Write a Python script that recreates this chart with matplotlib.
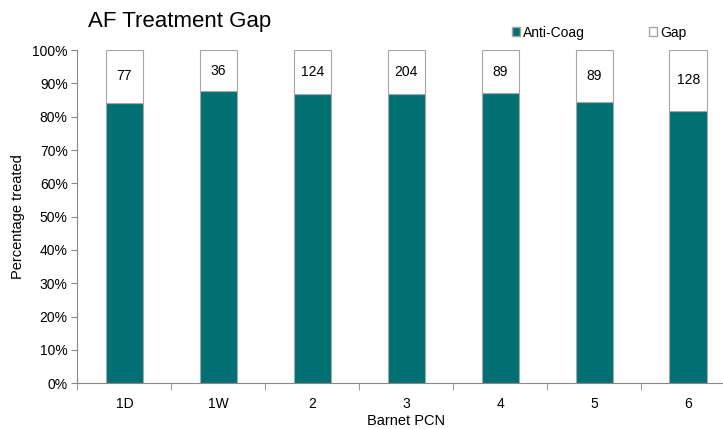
import numpy as np
import matplotlib.pyplot as plt
from matplotlib.ticker import PercentFormatter, FixedLocator
from matplotlib.patches import Patch

plt.rcParams['font.family'] = ['Liberation Sans', 'DejaVu Sans']

pcn = ['1D', '1W', '2', '3', '4', '5', '6']
anti_coag = [84.2, 87.8, 86.7, 86.7, 87.0, 84.3, 81.8]
gap_count = [77, 36, 124, 204, 89, 89, 128]

teal = '#007073'
edge = '#a6a6a6'

gap = [100 - a for a in anti_coag]
x = np.arange(len(pcn))

fig = plt.figure(figsize=(7.23, 4.29), dpi=100)
ax = fig.add_axes([0.107, 0.107, 0.910, 0.776])

ax.bar(x, anti_coag, width=0.40, color=teal, edgecolor=edge, linewidth=0.8)
ax.bar(x, gap, width=0.40, bottom=anti_coag, color='white', edgecolor=edge, linewidth=0.8)

for xi, a, g, n in zip(x, anti_coag, gap, gap_count):
    ax.text(xi, a + g / 2, str(n), ha='center', va='center', fontsize=10)

ax.set_xlim(-0.5, len(pcn) - 0.5)
ax.set_ylim(0, 100)
ax.yaxis.set_major_locator(FixedLocator(np.arange(0, 101, 10)))
ax.yaxis.set_major_formatter(PercentFormatter(decimals=0))
ax.set_xticks(x)
ax.set_xticklabels(pcn)
ax.set_xticks(np.arange(-0.5, len(pcn), 1), minor=True)
ax.tick_params(axis='x', which='major', length=0, pad=10, labelsize=10)
ax.tick_params(axis='x', which='minor', length=5, color='#888888', direction='out')
ax.tick_params(axis='y', length=4, color='#888888', labelsize=10, pad=3)

for s in ['top', 'right']:
    ax.spines[s].set_visible(False)
for s in ['left', 'bottom']:
    ax.spines[s].set_color('#888888')
    ax.spines[s].set_linewidth(0.8)

ax.set_xlabel('Barnet PCN', fontsize=10.5, labelpad=2)
ax.set_ylabel('Percentage treated', fontsize=10.5, labelpad=5)

fig.text(0.122, 0.95, 'AF Treatment Gap', fontsize=16, va='center', ha='left')

handles = [Patch(facecolor=teal, edgecolor=edge, label='Anti-Coag'),
           Patch(facecolor='white', edgecolor=edge, label='Gap')]
fig.legend(handles=handles, loc='center left', bbox_to_anchor=(0.691, 0.924),
           ncol=2, frameon=False, fontsize=10, handlelength=0.6, handleheight=0.6,
           handletextpad=0.2, columnspacing=4.6)

fig.savefig('out.png', dpi=100)
